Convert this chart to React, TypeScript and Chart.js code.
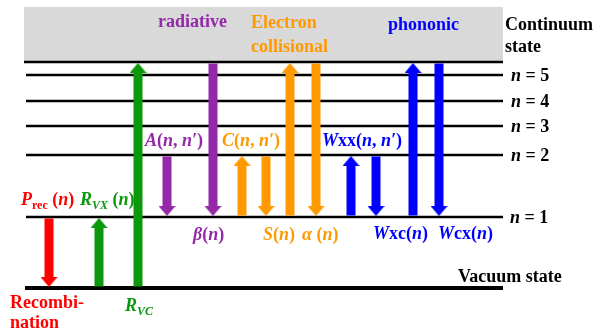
import React, { useEffect, useRef } from "react";
import { Chart, registerables } from "chart.js";

Chart.register(...registerables);

// ---- Energy levels (diagram energy units, vacuum = 0) ----
const levelNames = ["Vacuum state", "n = 1", "n = 2", "n = 3", "n = 4", "n = 5", "Continuum state"];
const levelEnergy = [0, 71, 133, 162, 187, 213, 226];
const levelNumbers = ["", "1", "2", "3", "4", "5", ""];
const continuumTop = 281;
const levelStart = 26;
const levelEnd = 503;

// ---- Transitions ----
const transitionNames = ["Prec", "RVX", "RVC", "A", "beta", "C up", "C down", "S", "alpha", "Wxx up", "Wxx down", "Wxc", "Wcx"];
const transitionPos = [49, 99, 138, 167, 213, 242, 266, 290, 316, 351, 376, 413, 439];
const transitionFrom = [1, 0, 0, 2, 6, 1, 2, 1, 6, 1, 2, 1, 6];
const transitionTo = [0, 1, 6, 1, 1, 2, 1, 6, 1, 2, 1, 6, 1];
const transitionGroup = ["rec", "vac", "vac", "rad", "rad", "col", "col", "col", "col", "pho", "pho", "pho", "pho"];

const groupColor: Record<string, string> = {
  rec: "#ff0000",
  vac: "#0c980c",
  rad: "#9329a8",
  col: "#ff9900",
  pho: "#0000ff",
};

// ---- Text labels: segments [text, style] ; style b=bold, bi=bold italic, s=subscript, si=italic subscript ----
type Seg = [string, string];
type Label = { segs: Seg[]; x: number; y: number; color: string };

const labels: Label[] = [
  { segs: [["radiative", "b"]], x: 158, y: 261, color: groupColor.rad },
  { segs: [["Electron", "b"]], x: 251, y: 260, color: groupColor.col },
  { segs: [["collisional", "b"]], x: 251, y: 236, color: groupColor.col },
  { segs: [["phononic", "b"]], x: 388, y: 258, color: groupColor.pho },
  { segs: [["Continuum", "b"]], x: 505, y: 258, color: "#000" },
  { segs: [["state", "b"]], x: 505, y: 236, color: "#000" },
  { segs: [["A", "bi"], ["(", "b"], ["n", "bi"], [", ", "b"], ["n\u2032", "bi"], [")", "b"]], x: 145, y: 142, color: groupColor.rad },
  { segs: [["C", "bi"], ["(", "b"], ["n", "bi"], [", ", "b"], ["n\u2032", "bi"], [")", "b"]], x: 222, y: 142, color: groupColor.col },
  { segs: [["W", "bi"], ["xx(", "b"], ["n", "bi"], [", ", "b"], ["n\u2032", "bi"], [")", "b"]], x: 322, y: 142, color: groupColor.pho },
  { segs: [["P", "bi"], ["rec", "s"], [" (", "b"], ["n", "bi"], [")", "b"]], x: 21, y: 83, color: groupColor.rec },
  { segs: [["R", "bi"], ["VX", "si"], [" (", "b"], ["n", "bi"], [")", "b"]], x: 80, y: 83, color: groupColor.vac },
  { segs: [["\u03B2", "bi"], ["(", "b"], ["n", "bi"], [")", "b"]], x: 193, y: 48, color: groupColor.rad },
  { segs: [["S", "bi"], ["(", "b"], ["n", "bi"], [")", "b"]], x: 263, y: 48, color: groupColor.col },
  { segs: [["\u03B1", "bi"], [" (", "b"], ["n", "bi"], [")", "b"]], x: 302, y: 48, color: groupColor.col },
  { segs: [["W", "bi"], ["xc(", "b"], ["n", "bi"], [")", "b"]], x: 373, y: 49, color: groupColor.pho },
  { segs: [["W", "bi"], ["cx(", "b"], ["n", "bi"], [")", "b"]], x: 438, y: 49, color: groupColor.pho },
  { segs: [["Vacuum state", "b"]], x: 458, y: 6, color: "#000" },
  { segs: [["Recombi-", "b"]], x: 10, y: -20, color: groupColor.rec },
  { segs: [["nation", "b"]], x: 10, y: -40, color: groupColor.rec },
  { segs: [["R", "bi"], ["VC", "si"]], x: 125, y: -23, color: groupColor.vac },
];

const FONT_FAMILY = '"Liberation Serif", "DejaVu Serif", serif';
const HEAD_W = 17;
const HEAD_H = 10;

function makeHead(color: string): HTMLCanvasElement {
  const c = document.createElement("canvas");
  c.width = HEAD_W;
  c.height = HEAD_H;
  const g = c.getContext("2d")!;
  g.fillStyle = color;
  g.beginPath();
  g.moveTo(0, HEAD_H);
  g.lineTo(HEAD_W / 2, 0);
  g.lineTo(HEAD_W, HEAD_H);
  g.closePath();
  g.fill();
  return c;
}

function drawRich(ctx: CanvasRenderingContext2D, segs: Seg[], x: number, y: number, color: string) {
  let cx = x;
  ctx.fillStyle = color;
  ctx.textBaseline = "alphabetic";
  ctx.textAlign = "left";
  for (const [t, st] of segs) {
    const italic = st.includes("i");
    const sub = st.startsWith("s");
    const size = sub ? 12 : 18;
    ctx.font = `${italic ? "italic " : ""}bold ${size}px ${FONT_FAMILY}`;
    ctx.fillText(t, cx, sub ? y + 4 : y);
    cx += ctx.measureText(t).width;
  }
}

const textPlugin = {
  id: "diagramText",
  afterDraw(chart: any) {
    const ctx = chart.ctx as CanvasRenderingContext2D;
    const xs = chart.scales.x;
    const ys = chart.scales.y;
    ctx.save();
    for (const l of labels) {
      drawRich(ctx, l.segs, xs.getPixelForValue(l.x), ys.getPixelForValue(l.y), l.color);
    }
    levelNumbers.forEach((num, i) => {
      if (!num) return;
      const px = xs.getPixelForValue(i === 1 ? 510 : 511);
      const py = ys.getPixelForValue(levelEnergy[i]) + 5.5;
      drawRich(ctx, [["n", "bi"], [" = " + num, "b"]], px, py, "#000");
    });
    ctx.restore();
  },
};

export default function App() {
  const ref = useRef<HTMLCanvasElement>(null);

  useEffect(() => {
    if (!ref.current) return;
    let chart: Chart | null = null;
    let cancelled = false;

    const build = () => {
      if (cancelled || !ref.current) return;
      const datasets: any[] = [];

      transitionNames.forEach((name, i) => {
        const x = transitionPos[i];
        const e0 = levelEnergy[transitionFrom[i]];
        const e1 = levelEnergy[transitionTo[i]];
        const up = e1 > e0;
        const color = groupColor[transitionGroup[i]];
        const tip = up ? e1 - 1 : e1 + 1;
        const start = up ? e0 + 1.5 : e0 - 1.5;
        const shaftEnd = up ? tip - HEAD_H + 0.5 : tip + HEAD_H - 0.5;
        const headCenter = up ? tip - HEAD_H / 2 : tip + HEAD_H / 2;
        datasets.push({
          label: name + " head",
          data: [{ x, y: headCenter }],
          pointStyle: makeHead(color),
          pointRotation: up ? 0 : 180,
          pointRadius: 5,
          showLine: false,
          order: 0,
        });
        datasets.push({
          label: name,
          data: [{ x, y: start }, { x, y: shaftEnd }],
          borderColor: color,
          borderWidth: 9,
          borderCapStyle: "butt",
          pointRadius: 0,
          showLine: true,
          order: 1,
        });
      });

      levelNames.forEach((name, i) => {
        const isVac = i === 0;
        const isCont = i === levelNames.length - 1;
        datasets.push({
          label: name,
          data: [
            { x: isCont ? 24 : isVac ? 25 : levelStart, y: levelEnergy[i] },
            { x: levelEnd, y: levelEnergy[i] },
          ],
          borderColor: "#000",
          borderWidth: isVac ? 4 : 2.5,
          pointRadius: 0,
          showLine: true,
          order: 2,
        });
      });

      datasets.push({
        label: "continuum band",
        data: [
          { x: 24, y: continuumTop },
          { x: levelEnd, y: continuumTop },
        ],
        borderWidth: 0,
        borderColor: "rgba(0,0,0,0)",
        backgroundColor: "#d9d9d9",
        fill: { value: levelEnergy[levelEnergy.length - 1] },
        pointRadius: 0,
        showLine: true,
        order: 3,
      });

      chart = new Chart(ref.current, {
        type: "scatter",
        data: { datasets },
        options: {
          responsive: false,
          devicePixelRatio: 1,
          animation: false,
          layout: { padding: 0, autoPadding: false },
          plugins: { legend: { display: false }, tooltip: { enabled: false } },
          scales: {
            x: { type: "linear", min: 0, max: 600, display: false },
            y: { type: "linear", min: -45, max: 288, display: false },
          },
        },
        plugins: [textPlugin],
      });
    };

    const fontsToLoad = [
      'bold 18px "Liberation Serif"',
      'italic bold 18px "Liberation Serif"',
      'bold 12px "Liberation Serif"',
      'italic bold 12px "Liberation Serif"',
    ];
    const fonts: any = (document as any).fonts;
    if (fonts && fonts.load) {
      Promise.all(fontsToLoad.map((f) => fonts.load(f, "Ab\u03B2\u03B1\u2032").catch(() => null)))
        .then(build, build);
    } else {
      build();
    }

    return () => {
      cancelled = true;
      if (chart) chart.destroy();
    };
  }, []);

  return (
    <div style={{ position: "absolute", left: 0, top: 0, width: 600, height: 333, background: "#fff" }}>
      <canvas ref={ref} width={600} height={333} style={{ display: "block" }} />
    </div>
  );
}
